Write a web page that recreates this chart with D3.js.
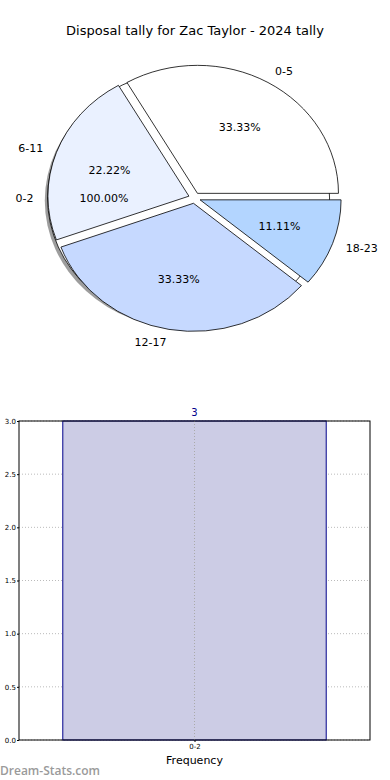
<!DOCTYPE html>
<html>
<head>
<meta charset="utf-8">
<script src="https://cdn.jsdelivr.net/npm/d3@7"></script>
<style>
  body { margin: 0; background: #fff; }
  svg { display: block; font-family: "DejaVu Sans", sans-serif; }
</style>
</head>
<body>
<svg id="chart" width="390" height="780"></svg>
<script>
// pie data
var pieLabels = ['0-5', '6-11', '12-17', '18-23'];
var pieValues = [3, 2, 3, 1];
var pieColors = ['#ffffff', '#eaf1ff', '#c6d9ff', '#b3d5ff'];
// the single-slice pie drawn underneath
var basePieLabels = ['0-2'];
var basePieValues = [1];

// bar data
var barCategories = ['0-2'];
var barValues = [3];
var yTicks = [0, 0.5, 1, 1.5, 2, 2.5, 3];

var svg = d3.select('#chart');

svg.append('text')
	.attr('x', 195).attr('y', 35)
	.attr('text-anchor', 'middle')
	.style('font-size', '13px')
	.text('Disposal tally for Zac Taylor - 2024 tally');

// ---- pie ----
var cx = 194.5, cy = 198, rx = 141, ry = 128, explode = 0.042;

var pie = d3.pie().sort(null)
	.startAngle(Math.PI / 2)
	.endAngle(Math.PI / 2 - 2 * Math.PI);
var arc = d3.arc().innerRadius(0).outerRadius(1);

function fmtPct(v, total) { return (v / total * 100).toFixed(2) + '%'; }

var pieG = svg.append('g');
var wedgeG = pieG.append('g');
var textG = pieG.append('g');

function drawPie(labels, values, colors, shadow) {
	var total = d3.sum(values);
	var arcs = pie(values);
	arcs.forEach(function(d, i) {
		var m = (d.startAngle + d.endAngle) / 2;
		var ox = cx + Math.sin(m) * explode * rx;
		var oy = cy - Math.cos(m) * explode * ry;
		if (shadow) {
			wedgeG.append('path')
				.attr('d', arc(d))
				.attr('transform', 'translate(' + (ox - 2.8) + ',' + (oy + 2.6) + ') scale(' + rx + ',' + ry + ')')
				.attr('fill', '#4d4d4d')
				.attr('fill-opacity', 0.55);
		}
		wedgeG.append('path')
			.attr('d', arc(d))
			.attr('transform', 'translate(' + ox + ',' + oy + ') scale(' + rx + ',' + ry + ')')
			.attr('fill', colors[i])
			.attr('stroke', '#000')
			.attr('stroke-width', 0.8)
			.attr('vector-effect', 'non-scaling-stroke');
		var lx = ox + Math.sin(m) * 1.1 * rx, ly = oy - Math.cos(m) * 1.1 * ry;
		textG.append('text')
			.attr('x', lx).attr('y', ly)
			.attr('dy', '0.35em')
			.attr('text-anchor', Math.sin(m) > 0.001 ? 'start' : 'end')
			.style('font-size', '11px')
			.text(labels[i]);
		textG.append('text')
			.attr('x', ox + Math.sin(m) * 0.6 * rx).attr('y', oy - Math.cos(m) * 0.6 * ry)
			.attr('dy', '0.35em')
			.attr('text-anchor', 'middle')
			.style('font-size', '11px')
			.text(fmtPct(values[i], total));
	});
}

drawPie(basePieLabels, basePieValues, ['#ffffff'], true);
drawPie(pieLabels, pieValues, pieColors, false);

// ---- bar chart ----
var plotLeft = 19, plotRight = 370, plotTop = 421, plotBottom = 740;
var x = d3.scaleLinear().domain([-0.533, 0.533]).range([plotLeft, plotRight]);
var y = d3.scaleLinear().domain([0, 3]).range([plotBottom, plotTop]);

var bg = svg.append('g');

// grid
bg.selectAll('.hgrid').data(yTicks).join('line')
	.attr('class', 'hgrid')
	.attr('x1', plotLeft).attr('x2', plotRight)
	.attr('y1', function(d) { return y(d); }).attr('y2', function(d) { return y(d); })
	.attr('stroke', '#bbbbbb').attr('stroke-width', 1)
	.attr('stroke-dasharray', '1,2');

bg.selectAll('.bar').data(barValues).join('rect')
	.attr('class', 'bar')
	.attr('x', function(d, i) { return x(i - 0.4); })
	.attr('width', function(d, i) { return x(i + 0.4) - x(i - 0.4); })
	.attr('y', function(d) { return y(d); })
	.attr('height', function(d) { return y(0) - y(d); })
	.attr('fill', '#cccce5')
	.attr('stroke', '#00008b')
	.attr('stroke-width', 1);

bg.selectAll('.vgrid').data(barCategories).join('line')
	.attr('class', 'vgrid')
	.attr('x1', function(d, i) { return x(i); }).attr('x2', function(d, i) { return x(i); })
	.attr('y1', plotTop).attr('y2', plotBottom)
	.attr('stroke', '#aaaaaa').attr('stroke-width', 1)
	.attr('stroke-dasharray', '1,2');

bg.selectAll('.barlabel').data(barValues).join('text')
	.attr('class', 'barlabel')
	.attr('x', function(d, i) { return x(i); })
	.attr('y', function(d) { return y(d) - 5; })
	.attr('text-anchor', 'middle')
	.attr('fill', '#00008b')
	.style('font-size', '10px')
	.text(function(d) { return d; });

bg.append('rect')
	.attr('x', plotLeft).attr('y', plotTop)
	.attr('width', plotRight - plotLeft).attr('height', plotBottom - plotTop)
	.attr('fill', 'none').attr('stroke', '#000').attr('stroke-width', 1);

var yAxis = d3.axisLeft(y).tickValues(yTicks).tickSize(2).tickPadding(1)
	.tickFormat(d3.format('.1f'));
bg.append('g').attr('transform', 'translate(' + plotLeft + ',0)').call(yAxis)
	.call(function(g) { g.select('.domain').remove(); })
	.selectAll('text').style('font-size', '7px').style('font-family', '"DejaVu Sans", sans-serif');

var xAxis = d3.axisBottom(x).tickValues(barCategories.map(function(d, i) { return i; }))
	.tickSize(2).tickPadding(2)
	.tickFormat(function(d) { return barCategories[d]; });
bg.append('g').attr('transform', 'translate(0,' + plotBottom + ')').call(xAxis)
	.call(function(g) { g.select('.domain').remove(); })
	.selectAll('text').style('font-size', '7px').style('font-family', '"DejaVu Sans", sans-serif');

svg.append('text')
	.attr('x', x(0)).attr('y', 764)
	.attr('text-anchor', 'middle')
	.style('font-size', '11px')
	.text('Frequency');

svg.append('text')
	.attr('x', 0).attr('y', 775)
	.attr('fill', '#9a9a9a')
	.style('font-size', '12px')
	.style('font-weight', '600')
	.style('font-family', '"Open Sans", sans-serif')
	.text('Dream-Stats.com');
</script>
</body>
</html>
